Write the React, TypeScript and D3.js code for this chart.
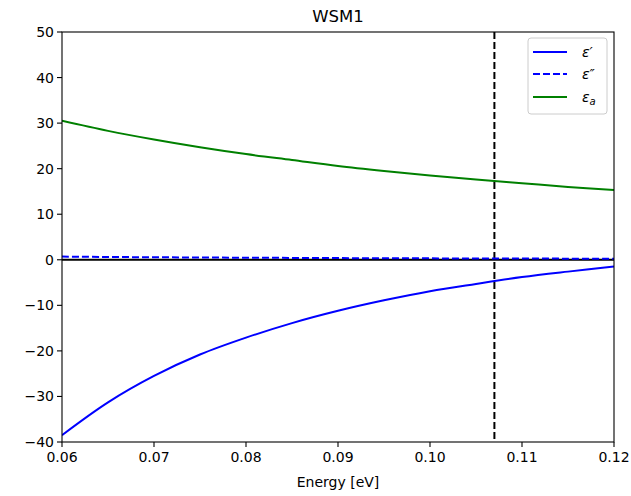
import React from "react";
import * as d3 from "d3";

const energy = [0.06, 0.065, 0.07, 0.075, 0.08, 0.085, 0.09, 0.095, 0.1, 0.105, 0.11, 0.115, 0.12];
const epsReal = [-38.5, -31.3, -25.5, -20.8, -17.1, -13.9, -11.2, -8.9, -6.9, -5.3, -3.8, -2.6, -1.5];
const epsImag = [0.7, 0.62, 0.55, 0.5, 0.45, 0.41, 0.37, 0.34, 0.31, 0.29, 0.27, 0.25, 0.23];
const epsA = [30.5, 28.3, 26.4, 24.7, 23.2, 21.9, 20.6, 19.5, 18.5, 17.6, 16.8, 16.0, 15.3];
const xTicks = [0.06, 0.07, 0.08, 0.09, 0.1, 0.11, 0.12];
const yTicks = [-40, -30, -20, -10, 0, 10, 20, 30, 40, 50];
const vLine = 0.107;
const title = "WSM1";
const xLabel = "Energy [eV]";

const W = 631, H = 496;
const L = 62, R = 614, T = 32, B = 442;

export default function App() {
  const x = d3.scaleLinear().domain([0.06, 0.12]).range([L, R]);
  const y = d3.scaleLinear().domain([-40, 50]).range([B, T]);
  const mk = (vals: number[]) =>
    d3.line<number>().x((_, i) => x(energy[i])).y((v) => y(v)).curve(d3.curveCatmullRom)(vals) || "";
  const font = "DejaVu Sans, sans-serif";
  return (
    <svg width={W} height={H} style={{ position: "absolute", left: 0, top: 0, background: "#fff" }} fontFamily={font}>
      <defs>
        <clipPath id="clip"><rect x={L} y={T} width={R - L} height={B - T} /></clipPath>
      </defs>
      <text x={(L + R) / 2} y={22} textAnchor="middle" fontSize={16.5} fill="#000">{title}</text>
      <g clipPath="url(#clip)">
        <line x1={L} x2={R} y1={y(0)} y2={y(0)} stroke="#000" strokeWidth={2} />
        <line x1={x(vLine)} x2={x(vLine)} y1={T} y2={B} stroke="#000" strokeWidth={2} strokeDasharray="7,3" />
        <path d={mk(epsReal)} fill="none" stroke="#0000ff" strokeWidth={2} />
        <path d={mk(epsImag)} fill="none" stroke="#0000ff" strokeWidth={2} strokeDasharray="7,3" />
        <path d={mk(epsA)} fill="none" stroke="#008000" strokeWidth={2} />
      </g>
      <rect x={L} y={T} width={R - L} height={B - T} fill="none" stroke="#000" strokeWidth={1.1} />
      {xTicks.map((t) => (
        <g key={t}>
          <line x1={x(t)} x2={x(t)} y1={B} y2={B + 5} stroke="#000" strokeWidth={1.1} />
          <text x={x(t)} y={B + 20} textAnchor="middle" fontSize={14} fill="#000">{t.toFixed(2)}</text>
        </g>
      ))}
      {yTicks.map((t) => (
        <g key={t}>
          <line x1={L - 5} x2={L} y1={y(t)} y2={y(t)} stroke="#000" strokeWidth={1.1} />
          <text x={L - 8} y={y(t) + 5} textAnchor="end" fontSize={14} fill="#000">{t < 0 ? "\u2212" + Math.abs(t) : t}</text>
        </g>
      ))}
      <text x={(L + R) / 2} y={487} textAnchor="middle" fontSize={14} fill="#000">{xLabel}</text>
      <g>
        <rect x={528} y={38} width={79} height={76} rx={3} fill="#fff" fillOpacity={0.8} stroke="#ccc" strokeWidth={1} />
        <line x1={533} x2={567} y1={52} y2={52} stroke="#0000ff" strokeWidth={2} />
        <line x1={533} x2={567} y1={74} y2={74} stroke="#0000ff" strokeWidth={2} strokeDasharray="7,3" />
        <line x1={533} x2={567} y1={97} y2={97} stroke="#008000" strokeWidth={2} />
        <text x={582} y={57} fontSize={14} fontStyle="italic" fill="#000">ε′</text>
        <text x={582} y={79} fontSize={14} fontStyle="italic" fill="#000">ε″</text>
        <text x={582} y={102} fontSize={14} fontStyle="italic" fill="#000">ε<tspan fontSize={10} dy={3}>a</tspan></text>
      </g>
    </svg>
  );
}
